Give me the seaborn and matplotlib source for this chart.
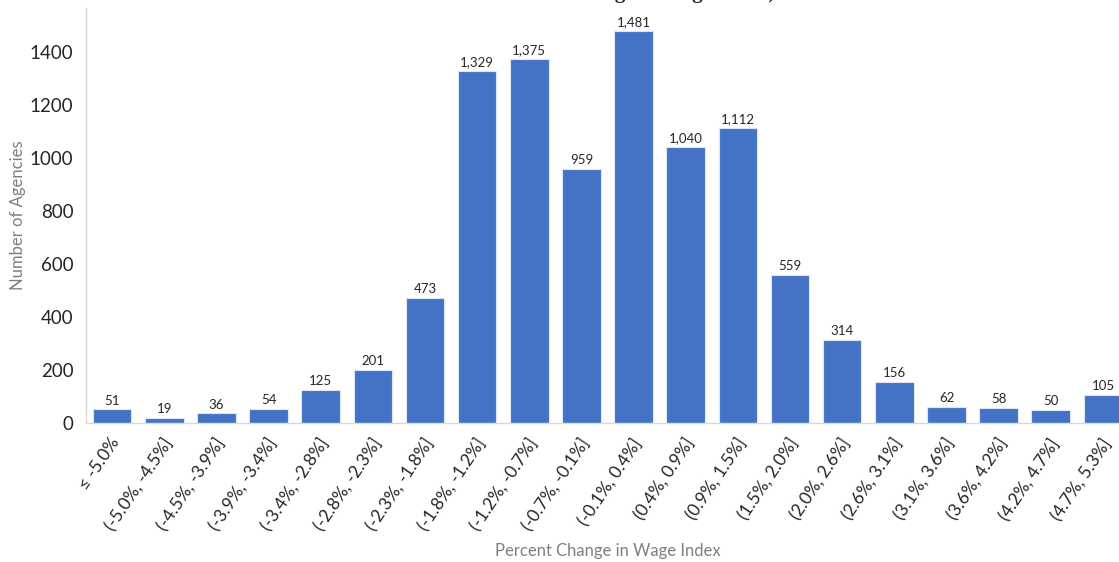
import matplotlib
matplotlib.use("Agg")
import matplotlib.pyplot as plt
import seaborn as sns
import pandas as pd

categories = ["≤ -5.0%", "(-5.0%, -4.5%]", "(-4.5%, -3.9%]", "(-3.9%, -3.4%]", "(-3.4%, -2.8%]",
              "(-2.8%, -2.3%]", "(-2.3%, -1.8%]", "(-1.8%, -1.2%]", "(-1.2%, -0.7%]", "(-0.7%, -0.1%]",
              "(-0.1%, 0.4%]", "(0.4%, 0.9%]", "(0.9%, 1.5%]", "(1.5%, 2.0%]", "(2.0%, 2.6%]",
              "(2.6%, 3.1%]", "(3.1%, 3.6%]", "(3.6%, 4.2%]", "(4.2%, 4.7%]", "(4.7%, 5.3%]"]
counts = [51, 19, 36, 54, 125, 201, 473, 1329, 1375, 959,
          1481, 1040, 1112, 559, 314, 156, 62, 58, 50, 105]
yticks = [0, 200, 400, 600, 800, 1000, 1200, 1400]

df = pd.DataFrame({"bin": categories, "count": counts})

sns.set_style("white")
plt.rcParams['font.family'] = ['Lato', 'DejaVu Sans']

W, H = 1119, 562
fig = plt.figure(figsize=(W / 100, H / 100), dpi=100)
left, right, top, bottom = 86, 1129, 8, 423
ax = fig.add_axes([left / W, 1 - bottom / H, (right - left) / W, (bottom - top) / H])

sns.barplot(data=df, x="bin", y="count", color="#4472C4", saturation=1, width=0.74,
            edgecolor="#DDE6F5", linewidth=0.8, ax=ax)
ax.set_xlim(-0.5, len(categories) - 0.5)
ax.set_ylim(0, 1566)
ax.set_yticks(yticks)
ax.set_yticklabels([str(v) for v in yticks], fontsize=13.5, color="#262626")
ax.tick_params(axis='y', length=0, pad=9)
ax.tick_params(axis='x', length=0, pad=6)
ax.set_xticks(range(len(categories)))
ax.set_xticklabels([c + " " for c in categories], rotation=56, ha='right', rotation_mode='anchor',
                   fontsize=12.5, color="#262626")
for c in ax.containers:
    ax.bar_label(c, labels=[f"{int(v):,}" for v in c.datavalues], padding=2,
                 fontsize=9.5, color="#262626")
for s in ["top", "right"]:
    ax.spines[s].set_visible(False)
for s in ["left", "bottom"]:
    ax.spines[s].set_color("#D9D9D9")
    ax.spines[s].set_linewidth(1.0)
ax.set_xlabel("")
ax.set_ylabel("")
fig.text(18 / W, 1 - 215 / H, "Number of Agencies", rotation=90, ha='center', va='center',
         fontsize=12, color="#7F7F7F")
fig.text(608 / W, 1 - 551 / H, "Percent Change in Wage Index", ha='center', va='center',
         fontsize=12, color="#7F7F7F")
fig.text(775 / W, 1 - (-2) / H, "Percent Change in Wage Index)", ha='right', va='baseline',
         fontsize=15, fontweight='bold', family=['Liberation Serif'], color="#262626")

fig.savefig("out.png", dpi=100)
